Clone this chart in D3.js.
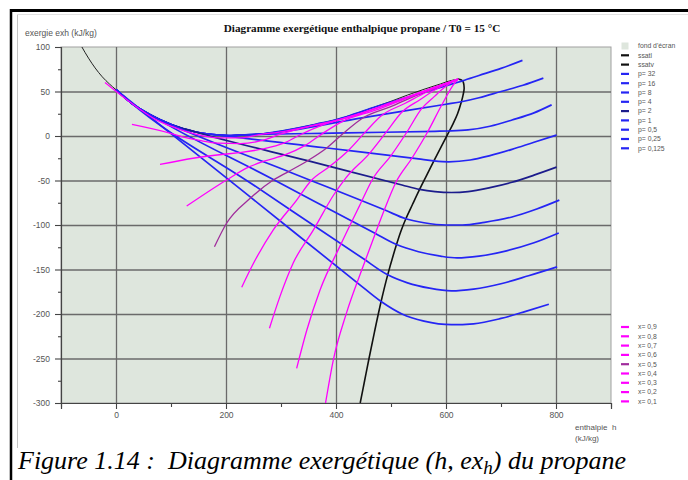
<!DOCTYPE html>
<html>
<head>
<meta charset="utf-8">
<script src="https://cdn.jsdelivr.net/npm/d3@7"></script>
<style>
  body { margin: 0; background: #ffffff; }
  svg { display: block; }
</style>
</head>
<body>
<svg id="chart" width="688" height="480"></svg>
<script>
// saturation curves (h kJ/kg, ex kJ/kg)
const ssatl = [[-62,100],[-50,87.5],[-38,76.5],[-25,66.5],[-12,58.5],[0,52],[28,37],[62,24],[100,13],[145,4.5],[188,1],[205,0.5],[222,1],[268,2.5],[300,5.5],[330,9],[365,13.5],[401,18.5],[430,24],[468,32],[500,39],[530,46],[560,52.5],[590,58.5],[607,62],[622,64]];
const ssatv = [[622,64],[630,62],[633,54],[631,46],[628,38.5],[621,25],[613,14],[606,5.5],[593,-10],[578,-28],[565,-44],[552,-60],[539,-77],[527,-93],[518,-107],[510,-122],[494,-156],[482,-186],[470,-220],[460,-250],[452,-275],[444,-300]];

// isobars
const isoP32 = [[0,52],[28,37],[62,24],[100,13],[145,4.5],[188,1],[205,0.5],[222,1],[268,2.5],[300,5.5],[330,9],[365,13.5],[401,18.5],[430,24],[468,32],[560,49],[610,58.3],[630,62],[660,68],[700,76],[739,85]];
const isoP16 = [[0,52],[28,37],[62,24],[100,13],[145,4.5],[188,1],[205,0.5],[222,1],[268,2.5],[450,20.7],[600,35.7],[628,38.5],[660,43],[700,50],[740,57],[777,65]];
const isoP8 = [[0,52],[28,37],[62,24],[100,13],[145,4.5],[188,1],[205,0.5],[222,1],[420,3.4],[580,5.3],[606,5.6],[640,6.8],[680,11],[720,18],[760,26],[792,35]];
const isoP4 = [[0,52],[28,37],[62,24],[100,13],[145,4.5],[188,1],[380,-13.2],[550,-25.8],[578,-28],[605,-29],[644,-27],[680,-22],[720,-15],[760,-7],[801,1]];
const isoP2 = [[0,52],[28,37],[62,24],[100,13],[145,4.5],[350,-28],[520,-55],[552,-60],[580,-62.5],[610,-63.5],[640,-62.5],[680,-58],[720,-52],[760,-44],[801,-35]];
const isoP1 = [[0,52],[28,37],[62,24],[100,13],[320,-41.5],[490,-83.5],[527,-93],[560,-97.5],[600,-100],[630,-100],[670,-97],[720,-91],[765,-82],[806,-72]];
const isoP05 = [[0,52],[28,37],[62,24],[280,-47],[470,-109],[510,-122],[550,-130],[590,-135],[620,-137],[660,-135],[710,-129],[760,-120],[805,-109]];
const isoP025 = [[0,52],[28,37],[250,-55],[450,-138],[494,-156],[530,-165],[570,-171],[610,-174],[650,-172],[700,-166],[750,-157],[802,-147]];
const isoP0125 = [[0,52],[240,-66.5],[440,-165.5],[482,-186],[520,-200],[560,-208],[610,-212],[650,-211],[700,-205],[745,-197],[787,-189]];

// iso-titre lines
const isoX09 = [[381,-300],[395,-252],[419,-199],[449,-147],[470,-112],[486,-86],[509,-52],[538,-25],[567,5],[592,34.5],[614,58],[622,64]];
const isoX08 = [[328.5,-261],[347,-218],[371,-173],[407,-124],[443,-78],[467,-48],[500,-22],[529,4.5],[556,31],[579,44.5],[598,55],[622,64]];
const isoX07 = [[279,-216],[298,-180.5],[322,-143],[359,-105.5],[396,-66],[418,-47],[461,-19.5],[491,4],[520,27],[552,40.5],[581,52.3],[622,64]];
const isoX06 = [[228.5,-170],[250,-143],[286,-105.5],[328.5,-72],[355,-50],[389,-34],[422,-16.5],[452,3.5],[484,23.5],[525,36.5],[565,49.5],[622,64]];
const isoX05 = [[179,-124.4],[201,-98],[244,-70],[286,-49.5],[313.5,-40],[348.5,-27.8],[383,-13.5],[414,3.3],[448,20],[498.5,32.8],[549,46.5],[622,64]];
const isoX04 = [[128.5,-78.7],[201,-49.4],[241,-35],[271,-28],[308,-21],[344,-10.5],[376,3],[412,16.5],[472,29],[533,43.5],[622,64]];
const isoX03 = [[80,-32],[140,-25],[196,-20.5],[228,-18.5],[267,-14.5],[305,-8],[337,2],[376,12.5],[445,25],[517,40.5],[622,64]];
const isoX02 = [[29,13],[96,3.5],[121,-1],[152,-5],[185,-8],[226,-8.5],[266,-5],[299,2],[340,9],[418,20.5],[500,37],[622,64]];
const isoX01 = [[-20,60],[48,28],[75,17.5],[107,9.5],[143,2.5],[186,-2],[227,-2],[260,1.5],[304,5],[350,10.5],[392,16],[440,24.5],[484,34],[530,44],[575,54],[622,64]];

// axes and legend texts
const hMajor = [0, 200, 400, 600, 800];
const hMinor = [-100, 100, 300, 500, 700, 900];
const exMajor = [-300, -250, -200, -150, -100, -50, 0, 50, 100];
const exMinor = [-275, -225, -175, -125, -75, -25, 25, 75];
const pressureLabels = ["p= 32", "p= 16", "p= 8", "p= 4", "p= 2", "p= 1", "p= 0,5", "p= 0,25", "p= 0,125"];
const qualityLabels = ["x= 0,9", "x= 0,8", "x= 0,7", "x= 0,6", "x= 0,5", "x= 0,4", "x= 0,3", "x= 0,2", "x= 0,1"];

const isobars = [isoP32, isoP16, isoP8, isoP4, isoP2, isoP1, isoP05, isoP025, isoP0125];
const qualities = [isoX09, isoX08, isoX07, isoX06, isoX05, isoX04, isoX03, isoX02, isoX01];

const svg = d3.select("#chart");
const sans = "'Liberation Sans', Arial, sans-serif";
const serif = "'Liberation Serif', 'Times New Roman', serif";

const x = d3.scaleLinear().domain([-100, 900]).range([61, 611]);
const y = d3.scaleLinear().domain([-300, 100]).range([403, 47]);
const plotW = x(900) - x(-100);
const plotH = y(-300) - y(100);

const blue = "#2525f4";
const blueDark = "#1c1c8c";
const pink = "#ff00ff";
const purple = "#a02c9c";
const bg = "#dee6dd";

// page frame
svg.append("line").attr("x1", 10).attr("x2", 688).attr("y1", 10.5).attr("y2", 10.5)
  .attr("stroke", "#000").attr("stroke-width", 3);
svg.append("line").attr("x1", 11).attr("x2", 11).attr("y1", 9).attr("y2", 480)
  .attr("stroke", "#000").attr("stroke-width", 2.5);
svg.append("line").attr("x1", 17.5).attr("x2", 17.5).attr("y1", 14).attr("y2", 448)
  .attr("stroke", "#c4c4c4").attr("stroke-width", 1);
svg.append("line").attr("x1", 17).attr("x2", 688).attr("y1", 14.5).attr("y2", 14.5)
  .attr("stroke", "#e2e2e2").attr("stroke-width", 1);

// plot background
svg.append("rect")
  .attr("x", x(-100)).attr("y", y(100))
  .attr("width", plotW).attr("height", plotH)
  .attr("fill", bg).attr("stroke", "#a0a0a0").attr("stroke-width", 1);

// grid
const gridV = svg.append("g")
  .attr("transform", `translate(0,${y(-300)})`)
  .call(d3.axisBottom(x).tickValues(hMajor).tickSize(-plotH).tickFormat(""));
gridV.select(".domain").remove();
gridV.selectAll(".tick line").attr("stroke", "#6a6a6a").attr("stroke-width", 1.3);

const gridH = svg.append("g")
  .attr("transform", `translate(${x(-100)},0)`)
  .call(d3.axisLeft(y).tickValues(exMajor.slice(1, -1)).tickSize(-plotW).tickFormat(""));
gridH.select(".domain").remove();
gridH.selectAll(".tick line").attr("stroke", "#6a6a6a").attr("stroke-width", 1.3);

// axes
const yAxis = svg.append("g")
  .attr("transform", `translate(${x(-100)},0)`)
  .call(d3.axisLeft(y).tickValues(exMajor).tickSize(6).tickPadding(5).tickFormat(d => String(d)));
const yMinor = svg.append("g")
  .attr("transform", `translate(${x(-100)},0)`)
  .call(d3.axisLeft(y).tickValues(exMinor).tickSize(3).tickFormat(""));
yMinor.select(".domain").remove();

const xAxis = svg.append("g")
  .attr("transform", `translate(0,${y(-300)})`)
  .call(d3.axisBottom(x).tickValues(hMajor).tickSize(6).tickPadding(3).tickFormat(d => String(d)));
const xMinor = svg.append("g")
  .attr("transform", `translate(0,${y(-300)})`)
  .call(d3.axisBottom(x).tickValues(hMinor).tickSize(4).tickFormat(""));
xMinor.select(".domain").remove();

[yAxis, xAxis, yMinor, xMinor].forEach(a => {
  a.selectAll(".domain").attr("stroke", "#444").attr("stroke-width", 1.2);
  a.selectAll(".tick line").attr("stroke", "#444").attr("stroke-width", 1.1);
  a.selectAll("text").attr("fill", "#555").style("font-family", sans).style("font-size", "8.5px");
});

// curves
svg.append("clipPath").attr("id", "plotClip")
  .append("rect").attr("x", x(-100)).attr("y", y(100)).attr("width", plotW).attr("height", plotH);
const plot = svg.append("g").attr("clip-path", "url(#plotClip)");

const lineX = d3.line().x(d => x(d[0])).y(d => y(d[1])).curve(d3.curveMonotoneX);
const lineCR = d3.line().x(d => x(d[0])).y(d => y(d[1])).curve(d3.curveCatmullRom.alpha(0.5));

plot.append("path").attr("d", lineX(ssatl))
  .attr("fill", "none").attr("stroke", "#222").attr("stroke-width", 1);
plot.append("path").attr("d", lineCR(ssatv))
  .attr("fill", "none").attr("stroke", "#111").attr("stroke-width", 1.6);

plot.selectAll(".isobar")
  .data(isobars)
  .enter()
  .append("path")
  .attr("class", "isobar")
  .attr("d", d => lineX(d))
  .attr("fill", "none")
  .attr("stroke", (d, i) => i === 4 ? blueDark : blue)
  .attr("stroke-width", 1.7);

plot.selectAll(".quality")
  .data(qualities)
  .enter()
  .append("path")
  .attr("class", "quality")
  .attr("d", d => lineX(d))
  .attr("fill", "none")
  .attr("stroke", (d, i) => i === 4 ? purple : pink)
  .attr("stroke-width", 1.3);

// title and axis titles
svg.append("text")
  .attr("x", 362).attr("y", 32)
  .attr("text-anchor", "middle")
  .style("font-family", serif).style("font-weight", "bold").style("font-size", "11.2px")
  .attr("fill", "#111")
  .text("Diagramme exergétique enthalpique propane / T0 = 15 °C");

svg.append("text")
  .attr("x", 25).attr("y", 36)
  .style("font-family", sans).style("font-size", "8.5px").attr("fill", "#555")
  .text("exergie exh (kJ/kg)");

svg.append("text")
  .attr("x", 575).attr("y", 430)
  .style("font-family", sans).style("font-size", "8px").attr("fill", "#555")
  .attr("xml:space", "preserve")
  .text("enthalpie  h");
svg.append("text")
  .attr("x", 575).attr("y", 441)
  .style("font-family", sans).style("font-size", "8px").attr("fill", "#555")
  .text("(kJ/kg)");

// legend
const legendTop = ["fond d'écran", "ssatl", "ssatv"].concat(pressureLabels);
const topColors = [bg, "#111", "#111", blue, blue, blue, blue, blueDark, blue, blue, blue, blue];
const lg = svg.append("g");
legendTop.forEach((label, i) => {
  const ly = 46 + i * 9.3;
  if (i === 0) {
    lg.append("rect").attr("x", 621.5).attr("y", ly - 3.5).attr("width", 7).attr("height", 7).attr("fill", bg);
  } else {
    lg.append("line").attr("x1", 621).attr("x2", 629).attr("y1", ly).attr("y2", ly)
      .attr("stroke", topColors[i]).attr("stroke-width", 2.2);
  }
  lg.append("text").attr("x", 638).attr("y", ly + 2.3)
    .style("font-family", sans).style("font-size", "6.8px").attr("fill", "#555")
    .text(label);
});
qualityLabels.forEach((label, i) => {
  const ly = 327 + i * 9.3;
  lg.append("line").attr("x1", 621).attr("x2", 629).attr("y1", ly).attr("y2", ly)
    .attr("stroke", i === 4 ? purple : pink).attr("stroke-width", 2.2);
  lg.append("text").attr("x", 638).attr("y", ly + 2.3)
    .style("font-family", sans).style("font-size", "6.8px").attr("fill", "#555")
    .text(label);
});

// caption
const cap = svg.append("text")
  .attr("x", 18).attr("y", 469)
  .style("font-family", serif).style("font-style", "italic").style("font-size", "26px")
  .attr("fill", "#000");
cap.append("tspan").text("Figure 1.14 :  Diagramme exergétique (h, ex").attr("xml:space", "preserve");
cap.append("tspan").attr("dy", 5).style("font-size", "19px").text("h");
cap.append("tspan").attr("dy", -5).text(") du propane");
</script>
</body>
</html>
